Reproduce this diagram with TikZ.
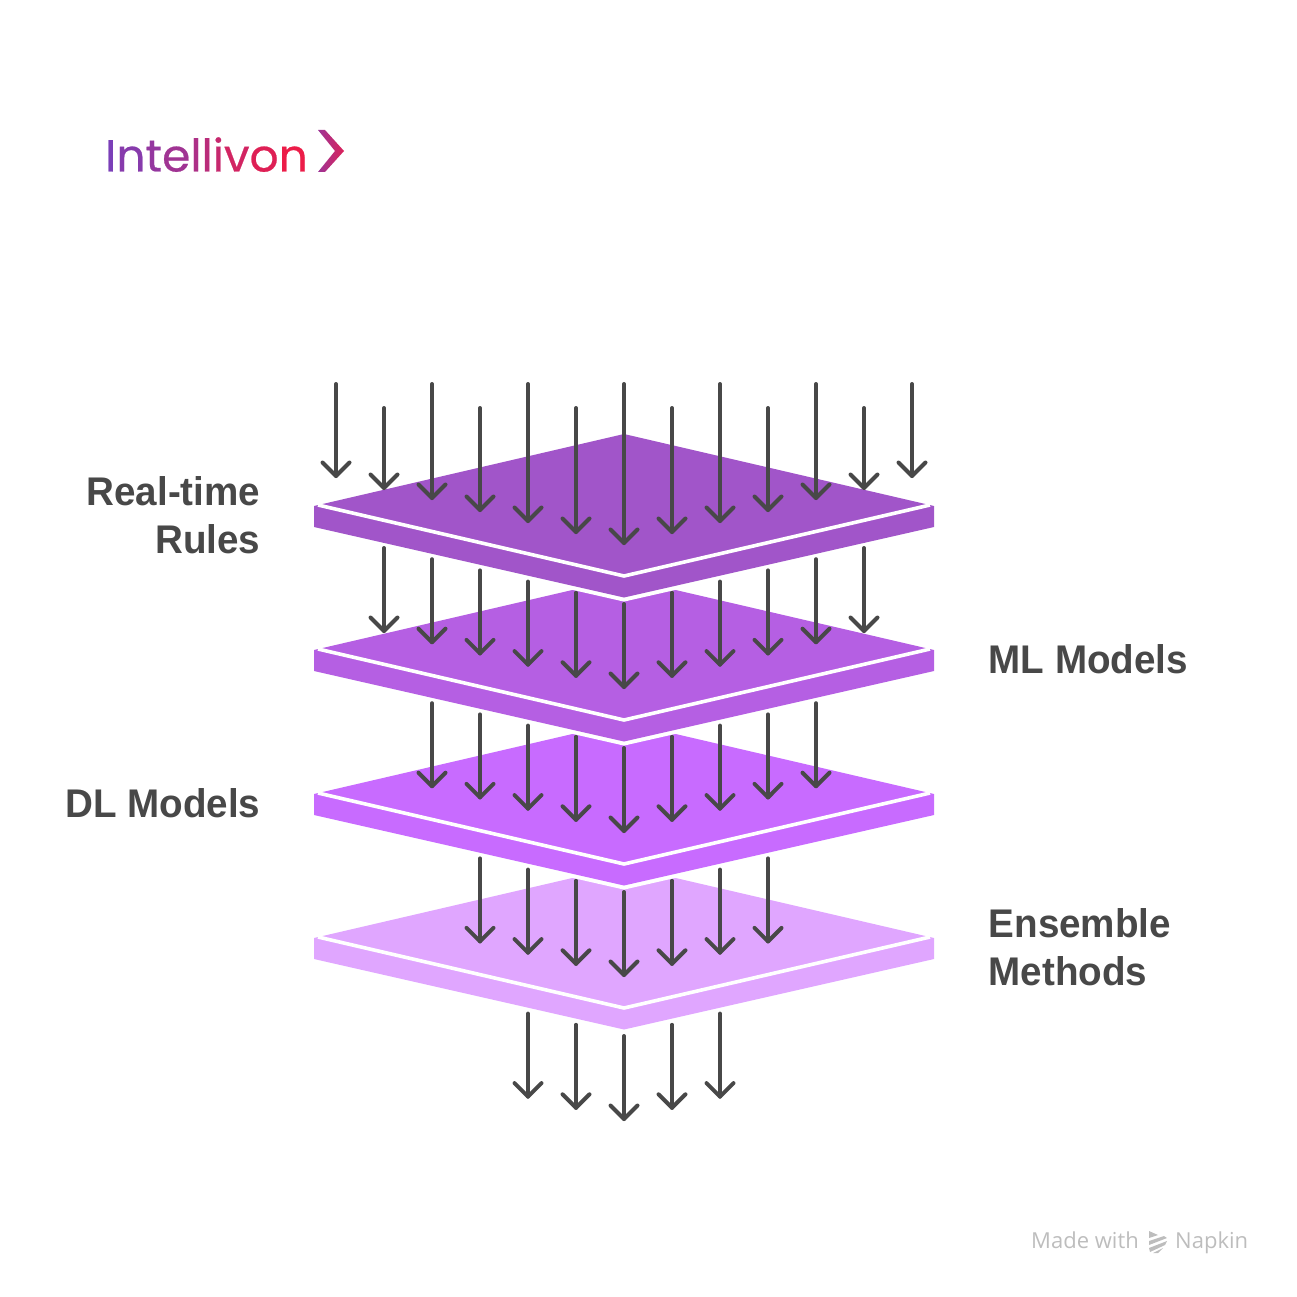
\documentclass[tikz,border=0pt]{standalone}
\usepackage{fontspec}
\usetikzlibrary{calc}
\setmainfont[FakeStretch=0.965]{Liberation Sans}
\newfontfamily\logofont[FakeStretch=1.012,FakeBold=0.5]{Poppins}
\newfontfamily\markfont{Open Sans}
\definecolor{arrowgray}{HTML}{484848}
\definecolor{labelgray}{HTML}{484848}
\definecolor{plateA}{HTML}{A155C9}
\definecolor{plateB}{HTML}{B55FE3}
\definecolor{plateC}{HTML}{C86BFF}
\definecolor{plateD}{HTML}{E0A6FF}
\definecolor{logoA}{HTML}{7B3FB8}
\definecolor{logoB}{HTML}{EC1C48}
\definecolor{markgray}{HTML}{BDBDBD}
\newcommand{\lgc}[2]{\textcolor{logoB!#1!logoA}{#2}}
\tikzset{
  flow/.style={draw=arrowgray,line width=4pt,line cap=round,line join=round},
  sidelabel/.style={inner sep=0pt,font=\fontsize{40}{48}\selectfont\bfseries,text=labelgray},
  platesep/.style={draw=white,line width=3.6pt,line join=miter}
}
\newcommand{\plate}[2]{%
  \draw[draw=white,line width=8pt,line join=miter] (314,527+#1) -- (624,597.5+#1) -- (934,527+#1);
  \fill[#2] (314,506+#1) -- (624,434+#1) -- (934,506+#1) -- (934,527+#1) -- (624,597.5+#1) -- (314,527+#1) -- cycle;
  \draw[platesep] (318,505+#1) -- (624,576+#1) -- (930,505+#1);
}
\newcommand{\flowrow}[4]{%
  \foreach \k in {-#1,...,#1}{
    \pgfmathsetmacro{\xx}{624+48*\k}
    \pgfmathsetmacro{\st}{#2-11.2*abs(\k)}
    \pgfmathsetmacro{\en}{#3-11.2*abs(\k)}
    \coordinate (s#4\k) at (\xx,\st);
    \coordinate (e#4\k) at (\xx,\en);
    \draw[flow] (s#4\k) -- (e#4\k);
    \draw[flow] ($(e#4\k)+(-13.5,-13.5)$) -- (e#4\k) -- ($(e#4\k)+(13.5,-13.5)$);
  }
}
\begin{document}
\begin{tikzpicture}[x=1pt,y=-1pt]
\useasboundingbox (0,0) rectangle (1296,1297);
\plate{432}{plateD}
\plate{288}{plateC}
\plate{144}{plateB}
\plate{0}{plateA}
\foreach \xx/\st/\en [count=\i] in {336/384/476,384/408/488,432/384/498,480/408/510,528/384/521,576/408/532,624/384/543,672/408/532,720/384/521,768/408/510,816/384/498,864/408/488,912/384/476}{
  \coordinate (ts\i) at (\xx,\st);
  \coordinate (te\i) at (\xx,\en);
  \draw[flow] (ts\i) -- (te\i);
  \draw[flow] ($(te\i)+(-13.5,-13.5)$) -- (te\i) -- ($(te\i)+(13.5,-13.5)$);
}
\flowrow{5}{604}{687}{b}
\flowrow{4}{748}{831}{c}
\flowrow{3}{892}{975}{d}
\flowrow{2}{1036}{1119}{f}
\node[sidelabel,anchor=base east] (l1) at (260.5,505) {Real-time};
\node[sidelabel,anchor=base east] (l2) at (260.5,553) {Rules};
\node[sidelabel,anchor=base west] (l3) at (988.5,673) {ML Models};
\node[sidelabel,anchor=base east] (l4) at (260.5,817) {DL Models};
\node[sidelabel,anchor=base west] (l5) at (988.5,937) {Ensemble};
\node[sidelabel,anchor=base west] (l6) at (988.5,985) {Methods};
\node[inner sep=0pt,anchor=base west,font=\logofont\fontsize{45}{45}\selectfont] (logo) at (105,171.5)
 {\lgc{0}{I}\lgc{11}{n}\lgc{22}{t}\lgc{33}{e}\lgc{44}{l}\lgc{55}{l}\lgc{66}{i}\lgc{77}{v}\lgc{88}{o}\lgc{100}{n}};
\shade[left color=logoA!70!logoB,right color=logoB!85!logoA] (318,130) -- (325,130) -- (344,151) -- (325,172) -- (318,172) -- (335,151) -- cycle;
\node[inner sep=0pt,anchor=base west,font=\markfont\fontsize{22}{22}\selectfont,text=markgray] (m1) at (1031,1248) {Made with};
\node[inner sep=0pt,anchor=base west,font=\markfont\fontsize{22}{22}\selectfont,text=markgray] (m2) at (1175,1248) {Napkin};
\fill[markgray] (1149,1231) -- (1158,1235) -- (1149,1238) -- cycle;
\fill[markgray] (1149,1241) -- (1164,1236) -- (1167,1238) -- (1149,1245) -- cycle;
\fill[markgray] (1149,1248) -- (1167,1241) -- (1165,1245) -- (1150,1252) -- cycle;
\fill[markgray] (1153,1253) -- (1163,1248) -- (1158,1253) -- cycle;
\end{tikzpicture}
\end{document}
